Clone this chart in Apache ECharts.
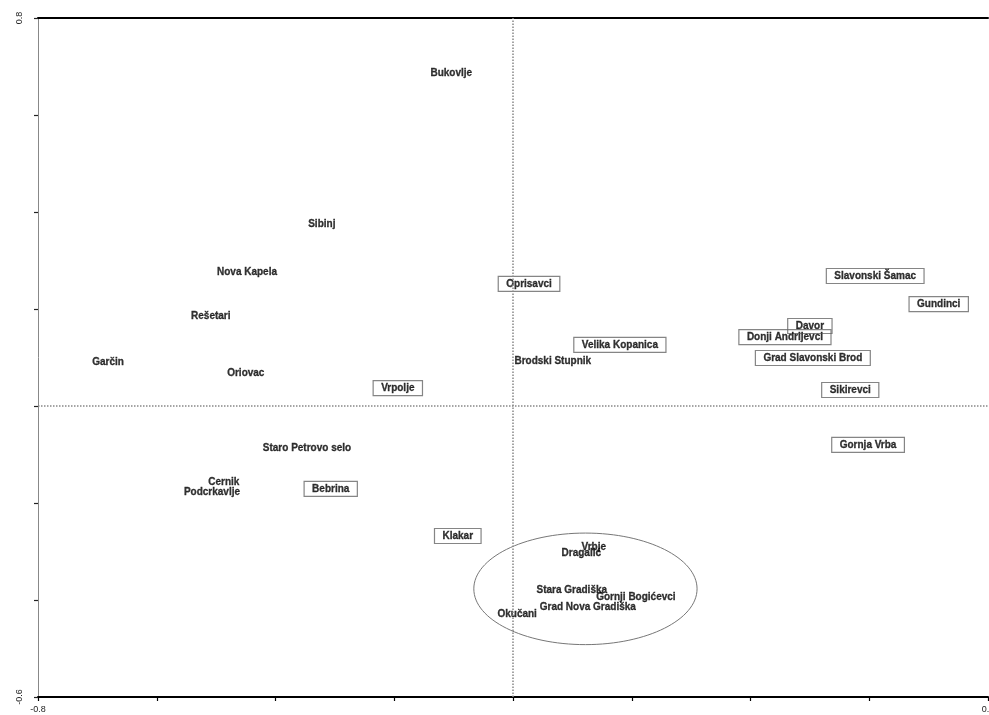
<!DOCTYPE html>
<html>
<head>
<meta charset="utf-8">
<script src="https://cdn.jsdelivr.net/npm/echarts@6/dist/echarts.min.js"></script>
<style>
html,body{margin:0;padding:0;background:#fff;overflow:hidden;}
#chart{width:989px;height:715px;}
</style>
</head>
<body>
<div id="chart"></div>
<script>
// Plain (unboxed) labels
const plainNames = ['Bukovlje','Sibinj','Nova Kapela','Rešetari','Garčin','Oriovac','Brodski Stupnik','Staro Petrovo selo','Cernik','Podcrkavlje','Vrbje','Dragalić','Stara Gradiška','Gornji Bogićevci','Grad Nova Gradiška','Okučani'];
const plainX = [-0.104,-0.322,-0.448,-0.509,-0.682,-0.450,0.067,-0.347,-0.487,-0.507,0.136,0.115,0.099,0.207,0.126,0.007];
const plainY = [0.687,0.375,0.276,0.186,0.091,0.068,0.093,-0.087,-0.157,-0.177,-0.291,-0.303,-0.379,-0.394,-0.414,-0.429];

// Boxed labels
const boxedNames = ['Oprisavci','Vrpolje','Velika Kopanica','Slavonski Šamac','Gundinci','Davor','Donji Andrijevci','Grad Slavonski Brod','Sikirevci','Gornja Vrba','Bebrina','Klakar'];
const boxedX = [0.027,-0.194,0.180,0.610,0.717,0.500,0.458,0.505,0.568,0.598,-0.307,-0.093];
const boxedY = [0.252,0.037,0.126,0.268,0.210,0.165,0.142,0.099,0.033,-0.080,-0.171,-0.268];

// Ellipse around the cluster
const ellipseCenter = [0.122,-0.377];
const ellipseRadii = [0.188,0.115];

// Axis
const xRange = [-0.8,0.8];
const yRange = [-0.6,0.8];
const tickStep = 0.2;

const font = {fontFamily:'"Liberation Sans", Arial, sans-serif', fontWeight:'bold', fontSize:10, color:'#000',
  textBorderColor:'#000', textBorderWidth:0.3};

function near(a,b){return Math.abs(a-b)<1e-9;}

const chart = echarts.init(document.getElementById('chart'), null, {width:989, height:715});
chart.setOption({
  animation:false,
  backgroundColor:'#fff',
  grid:{left:38,right:1,top:18,bottom:18,containLabel:false,outerBoundsMode:'none'},
  xAxis:[{
    type:'value',min:xRange[0],max:xRange[1],interval:tickStep,
    splitLine:{show:false},
    axisLine:{show:true,onZero:false,lineStyle:{color:'#000',width:2}},
    axisTick:{show:true,length:4,lineStyle:{color:'#000',width:1.2}},
    axisLabel:{margin:8,fontSize:9,color:'#222',fontFamily:'"Liberation Sans", Arial, sans-serif',
      formatter:v=> (near(v,xRange[0])||near(v,xRange[1])) ? String(Math.round(v*10)/10) : ''}
  },{
    type:'value',position:'top',min:xRange[0],max:xRange[1],
    splitLine:{show:false},
    axisLine:{show:true,onZero:false,lineStyle:{color:'#000',width:2}},
    axisTick:{show:false},axisLabel:{show:false}
  }],
  yAxis:{
    type:'value',min:yRange[0],max:yRange[1],interval:tickStep,
    splitLine:{show:false},
    axisLine:{show:true,onZero:false,lineStyle:{color:'#888',width:1}},
    axisTick:{show:true,length:4,lineStyle:{color:'#222',width:1.2}},
    axisLabel:{rotate:90,margin:14,fontSize:9,color:'#222',fontFamily:'"Liberation Sans", Arial, sans-serif',
      formatter:v=> (near(v,yRange[0])||near(v,yRange[1])) ? String(Math.round(v*10)/10) : ''}
  },
  series:[
    {
      type:'custom',
      xAxisIndex:0,
      data:[[ellipseCenter[0],ellipseCenter[1],ellipseRadii[0],ellipseRadii[1]]],
      encode:{x:0,y:1},
      renderItem:function(params,api){
        const c = api.coord([api.value(0),api.value(1)]);
        const s = api.size([api.value(2),api.value(3)]);
        return {type:'ellipse',shape:{cx:c[0],cy:c[1],rx:s[0],ry:s[1]},
          style:{fill:'none',stroke:'#777',lineWidth:1}};
      },
      silent:true,
      markLine:{
        silent:true,symbol:['none','none'],label:{show:false},
        lineStyle:{color:'#888',type:'dotted',width:1.5},
        data:[{xAxis:0},{yAxis:0}]
      }
    },
    {
      type:'scatter',xAxisIndex:0,
      symbolSize:0.1,
      itemStyle:{color:'rgba(0,0,0,0)'},
      data:plainNames.map((n,i)=>({name:n,value:[plainX[i],plainY[i]]})),
      label:Object.assign({show:true,position:'inside',formatter:'{b}'},font),
      silent:true
    },
    {
      type:'scatter',xAxisIndex:0,
      symbolSize:0.1,
      itemStyle:{color:'rgba(0,0,0,0)'},
      data:boxedNames.map((n,i)=>({name:n,value:[boxedX[i],boxedY[i]]})),
      label:Object.assign({show:true,position:'inside',formatter:'{b}',
        borderColor:'#666',borderWidth:1.2,padding:[3,8,2,8]},font),
      silent:true
    }
  ]
});
</script>
</body>
</html>
